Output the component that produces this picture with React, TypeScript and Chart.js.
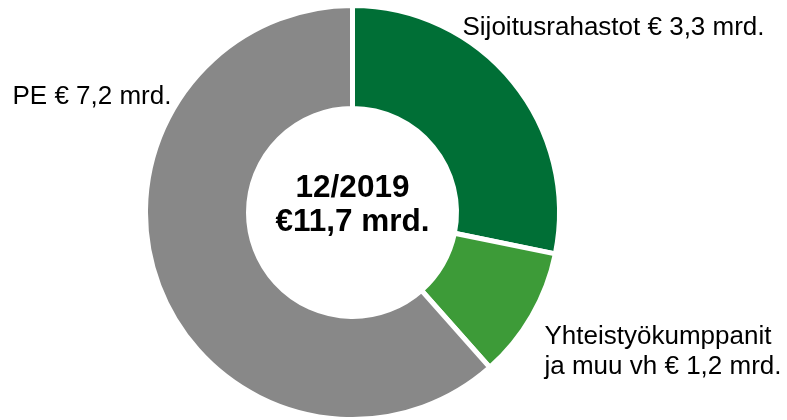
import React, { useEffect, useRef } from "react";
import { Chart, registerables } from "chart.js";

Chart.register(...registerables);

const categories = ["Sijoitusrahastot", "Yhteistyökumppanit ja muu vh", "PE"];
const labelLines = [["Sijoitusrahastot € 3,3 mrd."], ["Yhteistyökumppanit", "ja muu vh € 1,2 mrd."], ["PE € 7,2 mrd."]];
const values = [3.3, 1.2, 7.2];
const colors = ["#006F36", "#3D9B38", "#888888"];
const centerTitle = "12/2019";
const centerTotal = "€11,7 mrd.";

// label anchor offsets relative to doughnut centre (px, baseline of first line)
const labelOffsets = [
  [110, -178],
  [192, 131],
  [-340, -109],
];

const textPlugin = {
  id: "doughnutText",
  afterDraw(chart: any) {
    const { ctx, chartArea } = chart;
    const cx = (chartArea.left + chartArea.right) / 2;
    const cy = (chartArea.top + chartArea.bottom) / 2;
    ctx.save();
    ctx.fillStyle = "#000000";
    ctx.textBaseline = "alphabetic";
    ctx.textAlign = "center";
    ctx.font = "bold 31.5px 'Liberation Sans', Arial, sans-serif";
    ctx.fillText(centerTitle, cx, cy - 16);
    ctx.fillText(centerTotal, cx, cy + 18);
    ctx.textAlign = "left";
    ctx.font = "26px 'Liberation Sans', Arial, sans-serif";
    labelLines.forEach((lines, i) => {
      const [dx, dy] = labelOffsets[i];
      lines.forEach((line, j) => {
        ctx.fillText(line, cx + dx, cy + dy + j * 30);
      });
    });
    ctx.restore();
  },
};

export default function App() {
  const ref = useRef<HTMLCanvasElement>(null);
  useEffect(() => {
    if (!ref.current) return;
    const chart = new Chart(ref.current, {
      type: "doughnut",
      data: {
        labels: categories,
        datasets: [
          {
            data: values,
            backgroundColor: colors,
            borderColor: "#ffffff",
            borderWidth: 5,
          },
        ],
      },
      options: {
        responsive: false,
        animation: false,
        radius: 207,
        cutout: 103,
        layout: { padding: { left: 0, right: 82, top: 5, bottom: 0 } },
        plugins: {
          legend: { display: false },
          tooltip: { enabled: false },
        },
      },
      plugins: [textPlugin],
    });
    return () => chart.destroy();
  }, []);
  return (
    <div style={{ position: "fixed", left: 0, top: 0, width: 787, height: 420, background: "#ffffff" }}>
      <canvas ref={ref} width={787} height={420} />
    </div>
  );
}
